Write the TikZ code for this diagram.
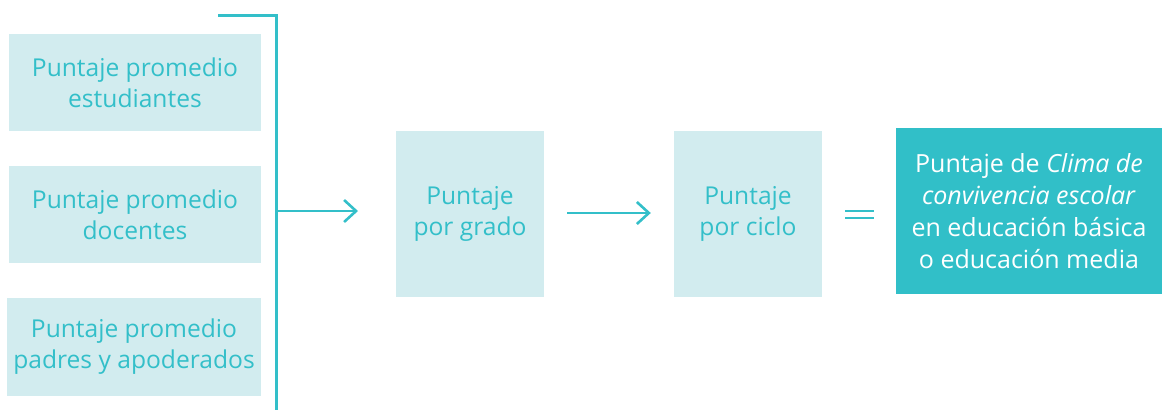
\documentclass[tikz,border=0pt]{standalone}
\usepackage{fontspec}
\setmainfont{Open Sans}
\usetikzlibrary{arrows.meta}
\definecolor{teal1}{HTML}{33BFC9}
\definecolor{lightbox}{HTML}{D2ECEF}
\definecolor{darkbox}{HTML}{31BFC8}
\tikzset{
  lbox/.style={fill=lightbox, draw=none, inner sep=0pt, align=center, text=teal1,
    font=\fontsize{24.6}{31}\selectfont},
  dbox/.style={fill=darkbox, draw=none, inner sep=0pt, align=center, text=white,
    font=\fontsize{25}{32}\selectfont},
  conn/.style={draw=teal1, line width=2.6pt},
  arr/.style={conn, -{Straight Barb[length=12pt,width=22pt,line width=2.6pt]}},
}
\begin{document}
\begin{tikzpicture}[x=1pt,y=-1pt]
\useasboundingbox (0,0) rectangle (1162,410);
\node[lbox, minimum width=252pt, minimum height=97pt] (est) at (135,82.5) {Puntaje promedio\\estudiantes};
\node[lbox, minimum width=252pt, minimum height=97pt] (doc) at (135,214.5) {Puntaje promedio\\docentes};
\node[lbox, minimum width=254pt, minimum height=98pt] (pad) at (134,347) {Puntaje promedio\\padres y apoderados};
\node[lbox, minimum width=148pt, minimum height=166pt] (grado) at (470,214) {Puntaje\\por grado};
\node[lbox, minimum width=148pt, minimum height=166pt] (ciclo) at (748,214) {Puntaje\\por ciclo};
\node[dbox, minimum width=266pt, minimum height=166pt] (clima) at (1029,211) {Puntaje de \textit{Clima de}\\\textit{convivencia escolar}\\en educación básica\\o educación media};
\coordinate (btop) at (218,15.5);
\coordinate (bcorner) at (276,15.5);
\coordinate (bbot) at (276,410);
\coordinate (bmid) at (276,211);
\coordinate (a1end) at (358,211);
\draw[conn, line width=3pt] (btop) -- (bcorner) -- (bbot);
\draw[arr] (bmid) -- (a1end);
\draw[arr] ([xshift=23pt]grado.east |- 0,213) -- ([xshift=-23pt]ciclo.west |- 0,213);
\coordinate (e1a) at (845,210.7);
\coordinate (e1b) at (874,210.7);
\coordinate (e2a) at (845,218.3);
\coordinate (e2b) at (874,218.3);
\draw[draw=teal1, line width=2.2pt] (e1a) -- (e1b);
\draw[draw=teal1, line width=2.2pt] (e2a) -- (e2b);
\end{tikzpicture}
\end{document}
